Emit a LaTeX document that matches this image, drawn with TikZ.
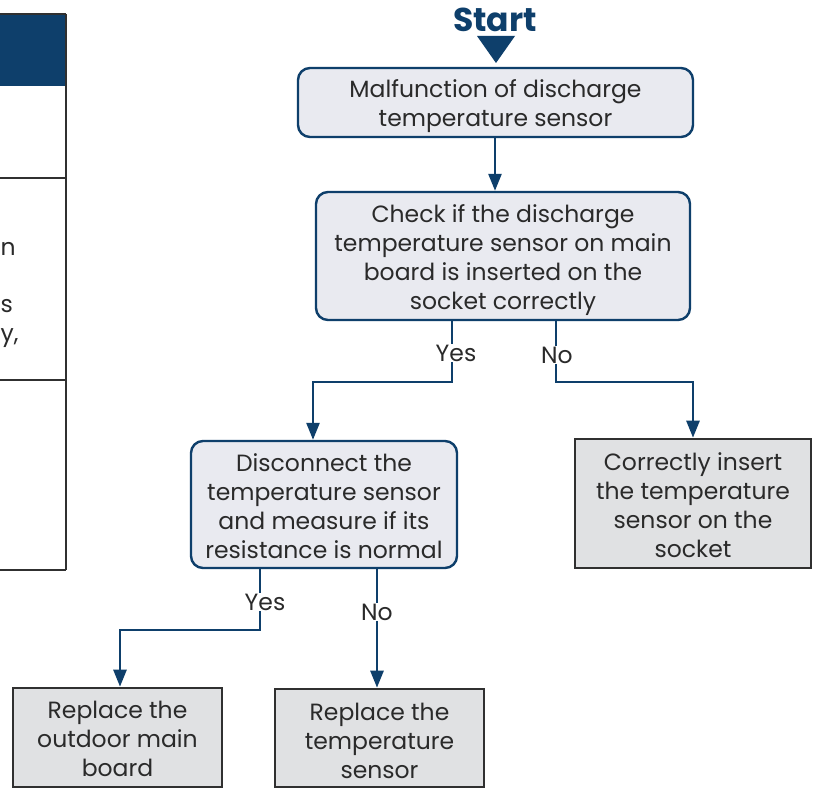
\documentclass[tikz,border=0pt]{standalone}
\usepackage{fontspec}
\setmainfont{Poppins}
\usetikzlibrary{arrows.meta,calc}
\definecolor{dblue}{HTML}{0E3F6B}
\definecolor{rfill}{HTML}{E9EAF0}
\definecolor{gfill}{HTML}{E0E1E3}
\definecolor{gline}{HTML}{303030}
\definecolor{txt}{HTML}{2A2A2A}
\newcommand{\lowtext}[3]{\raisebox{-#1}[\height][\depth]{\parbox{#2}{\centering #3}}}
\tikzset{
  txtfont/.style={font=\fontsize{23.5}{29}\selectfont, text=txt, align=center},
  rbox/.style={txtfont, draw=dblue, fill=rfill, line width=2.4pt, rounded corners=12pt, minimum width=#1, inner sep=0pt},
  gbox/.style={txtfont, draw=gline, fill=gfill, line width=2.6pt, minimum width=#1, inner sep=0pt},
  arr/.style={draw=dblue, line width=2.6pt, -{Triangle[length=17pt,width=13pt]}},
  lbl/.style={txtfont, fill=white, inner sep=1pt},
  tline/.style={draw=gline, line width=2pt},
}
\begin{document}
\begin{tikzpicture}[x=1pt,y=-1pt]
\useasboundingbox (0,0) rectangle (817,789);
\fill[white] (0,0) rectangle (817,789);
% partial table at left
\fill[dblue] (0,14) rectangle (66,86);
\draw[tline] (0,14) -- (66,14);
\draw[tline] (66,14) -- (66,570);
\draw[tline] (0,178) -- (66,178);
\draw[tline] (0,380) -- (66,380);
\draw[tline] (0,570) -- (66,570);
\node[txtfont, anchor=base west, inner sep=0pt] (t1) at (0.5,255) {n};
\node[txtfont, anchor=base west, inner sep=0pt] (t2) at (0.5,312) {s};
\node[txtfont, anchor=base west, inner sep=0pt] (t3) at (0.5,341) {y,};
% start
\node[font=\fontsize{33}{33}\selectfont\bfseries, text=dblue, inner sep=0pt] (start) at (495,20) {Start};
\fill[dblue] (477,36) -- (515,36) -- (496,63) -- cycle;
% boxes
\node[rbox=395pt, minimum height=69pt] (b1) at (495.5,102.5) {\lowtext{4pt}{380pt}{Malfunction of discharge\\temperature sensor}};
\node[rbox=374pt, minimum height=128pt] (b2) at (503,256) {\lowtext{4pt}{370pt}{Check if the discharge\\temperature sensor on main\\board is inserted on the\\socket correctly}};
\node[rbox=266pt, minimum height=127pt] (b3) at (324,504.5) {\lowtext{2pt}{260pt}{Disconnect the\\temperature sensor\\and measure if its\\resistance is normal}};
\node[gbox=236pt, minimum height=129pt] (b4) at (693,503.5) {\lowtext{2pt}{230pt}{Correctly insert\\the temperature\\sensor on the\\socket}};
\node[gbox=209pt, minimum height=99pt] (b5) at (117.5,737.5) {\lowtext{1pt}{200pt}{Replace the\\outdoor main\\board}};
\node[gbox=209pt, minimum height=98pt] (b6) at (379.5,738) {\lowtext{3pt}{200pt}{Replace the\\temperature\\sensor}};
% connectors
\draw[arr] (b1.south -| 495,0) -- (b2.north -| 495,0);
\coordinate (y1) at (452,382);
\coordinate (n1) at (556,382);
\coordinate (y2) at (260,630);
\coordinate (e3) at (313,0);
\coordinate (e5) at (120,0);
\draw[arr] (y1 |- b2.south) -- (y1) -| (e3 |- b3.north);
\draw[arr] (n1 |- b2.south) -- (n1) -| (b4.north);
\draw[arr] (y2 |- b3.south) -- (y2) -| (e5 |- b5.north);
\draw[arr] (b3.south -| 377,0) -- (b6.north -| 377,0);
\node[lbl] (ly1) at (456,353) {Yes};
\node[lbl] (ln1) at (557,355) {No};
\node[lbl] (ly2) at (265,602) {Yes};
\node[lbl] (ln2) at (377,612) {No};
\end{tikzpicture}
\end{document}
